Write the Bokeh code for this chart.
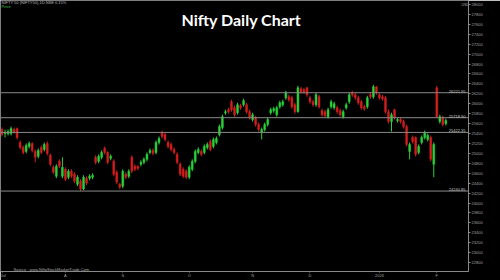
from bokeh.plotting import figure
from bokeh.models import Range1d, FixedTicker, Span, Label, ColumnDataSource
from bokeh.embed import file_html
from bokeh.resources import INLINE

# ---- data ----
opens = [25480, 25400, 25400, 25400, 25480, 25500, 25220, 25120, 25040, 25140,
         25200, 25040, 24940, 25120, 25080, 25200, 24960, 24720, 24540, 24840,
         24540, 24680, 24520, 24640, 24580, 24380, 24440, 24280, 24500, 24500,
         24520, 24920, 24840, 24920, 25100, 25020, 24900, 24840, 24620, 24380,
         24340, 24580, 24540, 24920, 24740, 24740, 24780, 24820, 24880, 25020,
         25060, 25020, 25220, 25420, 25380, 25220, 25180, 25080, 24980, 24780,
         24680, 24640, 24520, 24680, 24840, 25020, 25040, 25020, 25120, 25240,
         25140, 25220, 25380, 25520, 25820, 25880, 26040, 25920, 25820, 25960,
         25980, 25980, 25840, 25680, 25720, 25580, 25420, 25480, 25580, 25820,
         25860, 25780, 25940, 25980, 26120, 26140, 26120, 25980, 25840, 26300,
         26280, 26320, 26120, 26040, 25980, 26140, 25860, 25840, 25740, 25940,
         25920, 25920, 25860, 25740, 25920, 26040, 26220, 26180, 26120, 26040,
         25940, 25940, 26180, 26140, 26340, 26180, 26140, 26120, 25840, 25640,
         25880, 25660, 25680, 25640, 25540, 25040, 25320, 25320, 25020, 25220,
         25320, 25280, 25320, 24780, 26320, 25640, 25720, 25600]
highs = [25520, 25480, 25480, 25540, 25520, 25520, 25260, 25160, 25200, 25240,
         25220, 25080, 25100, 25160, 25220, 25240, 25000, 24760, 24780, 24880,
         24920, 24720, 24680, 24680, 24620, 24560, 24480, 24560, 24540, 24580,
         24600, 24960, 24980, 25060, 25140, 25040, 24980, 24880, 24660, 24400,
         24680, 24620, 24680, 24960, 24780, 24760, 24860, 24920, 25020, 25100,
         25100, 25260, 25340, 25460, 25420, 25260, 25220, 25120, 25020, 24820,
         24720, 24680, 24760, 24880, 25080, 25120, 25080, 25180, 25220, 25280,
         25320, 25340, 25580, 25780, 25880, 25920, 26080, 25960, 26020, 26000,
         26100, 26020, 25880, 25820, 25760, 25620, 25520, 25620, 25720, 25920,
         25940, 25960, 26060, 26080, 26260, 26180, 26160, 26020, 26360, 26340,
         26320, 26340, 26160, 26080, 26220, 26180, 25900, 25880, 25920, 26080,
         26040, 25960, 25900, 25880, 26020, 26220, 26260, 26220, 26160, 26080,
         25980, 26160, 26220, 26380, 26360, 26220, 26180, 26160, 25880, 25820,
         25900, 25720, 25720, 25680, 25580, 25220, 25360, 25340, 25180, 25360,
         25460, 25400, 25360, 25220, 26360, 25780, 25760, 25700]
lows = [25340, 25320, 25360, 25360, 25400, 25280, 25080, 24980, 25000, 25100,
        25020, 24820, 24900, 24980, 25040, 24960, 24740, 24580, 24500, 24700,
        24500, 24440, 24480, 24500, 24400, 24340, 24240, 24260, 24360, 24460,
        24480, 24780, 24800, 24880, 24980, 24780, 24860, 24540, 24380, 24280,
        24300, 24480, 24500, 24600, 24640, 24660, 24740, 24780, 24840, 24980,
        24960, 24980, 25180, 25300, 25240, 25100, 25040, 24980, 24780, 24540,
        24500, 24480, 24480, 24640, 24800, 24980, 24940, 24980, 25080, 25040,
        25100, 25180, 25340, 25480, 25780, 25800, 25840, 25740, 25780, 25880,
        25940, 25800, 25680, 25640, 25540, 25440, 25280, 25440, 25540, 25780,
        25820, 25740, 25900, 25940, 26080, 26040, 25900, 25800, 25820, 26200,
        26200, 26140, 26000, 25940, 25940, 25900, 25740, 25720, 25700, 25900,
        25880, 25800, 25740, 25700, 25880, 26000, 26140, 26080, 25980, 25880,
        25860, 25900, 26100, 26100, 26180, 26080, 26060, 25800, 25600, 25440,
        25680, 25620, 25600, 25500, 25140, 24880, 25200, 24940, 24980, 25180,
        25280, 25240, 24840, 24520, 25720, 25600, 25540, 25560]
closes = [25380, 25420, 25440, 25500, 25440, 25320, 25120, 25020, 25160, 25200,
          25060, 24920, 25060, 25020, 25180, 25000, 24780, 24620, 24740, 24740,
          24720, 24480, 24640, 24540, 24440, 24520, 24280, 24520, 24400, 24540,
          24560, 24820, 24940, 25020, 25020, 24820, 24940, 24580, 24420, 24320,
          24640, 24520, 24640, 24640, 24680, 24700, 24820, 24880, 24980, 25060,
          25000, 25220, 25300, 25340, 25280, 25140, 25080, 25020, 24820, 24580,
          24540, 24520, 24720, 24840, 25040, 25080, 24980, 25140, 25180, 25080,
          25280, 25300, 25540, 25740, 25840, 25840, 25880, 25780, 25980, 25920,
          26060, 25840, 25720, 25780, 25580, 25480, 25480, 25580, 25680, 25880,
          25900, 25920, 26020, 26040, 26220, 26080, 25940, 25840, 26320, 26240,
          26240, 26180, 26040, 25980, 26180, 25940, 25780, 25760, 25880, 26040,
          26000, 25840, 25780, 25840, 25980, 26180, 26180, 26120, 26020, 25920,
          25900, 26120, 26140, 26340, 26220, 26120, 26100, 25840, 25640, 25780,
          25720, 25680, 25640, 25540, 25180, 25180, 25240, 24980, 25140, 25320,
          25420, 25360, 24880, 25180, 25740, 25740, 25580, 25660]

month_ticks = [0, 21, 40, 62, 83, 102, 125, 144]
month_labels = ["Jul", "A", "S", "O", "N", "D", "2026", "F"]
levels = [26221.95, 25718.90, 25422.35, 24240.85]
price_ticks = list(range(22600, 28001, 200))
title_text = "Nifty Daily Chart"
header_text = "NIFTY 50 (NIFTY50),1D,NSE  0.15%"
source_text = "Source : www.NiftyStockMarketTrade.Com"
legend_lines = ["NIFTY 50", "O 25,600.00", "H 25,700.00", "L 25,560.00", "C 25,660.00", "-0.15%"]
legend_colors = ["#dddddd", "#dddddd", "#3ccf4e", "#e0403a", "#d070c0", "#9a6ad8"]

UP = "#2bd13b"
DOWN = "#d21f1f"
TOP = 28080
PX = 20          # price units per pixel
FRAME_H = 273
y_of = lambda py: TOP - PX * py   # canvas pixel row -> price (for annotation placement)

idx = list(range(len(opens)))
colors = [UP if c >= o else DOWN for o, c in zip(opens, closes)]
tops = [max(o, c) for o, c in zip(opens, closes)]
bots = [min(o, c) for o, c in zip(opens, closes)]
src = ColumnDataSource(dict(x=idx, high=highs, low=lows, top=tops, bottom=bots, color=colors))

p = figure(width=500, height=280, output_backend="svg", toolbar_location=None,
           x_range=Range1d(-0.5, 154.5), y_range=Range1d(TOP - PX * FRAME_H, TOP),
           y_axis_location="right",
           background_fill_color="black", border_fill_color="black",
           min_border_left=0, min_border_top=0, min_border_right=32, min_border_bottom=0)
p.outline_line_color = None
p.grid.visible = False

# level lines
for v in levels:
    p.add_layout(Span(location=v, dimension="width", line_color="#8a8a8a", line_width=1))

p.segment(x0="x", y0="low", x1="x", y1="high", color="color", line_width=1, source=src)
p.vbar(x="x", top="top", bottom="bottom", width=0.62, fill_color="color", line_color="color",
       line_width=0.5, source=src)

# axes
ya = p.yaxis[0]
ya.ticker = FixedTicker(ticks=price_ticks)
ya.axis_line_color = "#8a8a8a"
ya.major_tick_line_color = "#8a8a8a"
ya.major_tick_out = 2
ya.major_tick_in = 0
ya.minor_tick_line_color = None
ya.major_label_text_color = "#a0a0a0"
ya.major_label_text_font_size = "4px"
ya.major_label_standoff = 1

xa = p.xaxis[0]
xa.ticker = FixedTicker(ticks=month_ticks)
xa.major_label_overrides = {t: l for t, l in zip(month_ticks, month_labels)}
xa.axis_line_color = "#8a8a8a"
xa.major_tick_line_color = "#8a8a8a"
xa.major_tick_out = 1
xa.major_tick_in = 0
xa.minor_tick_line_color = None
xa.major_label_text_color = "#a0a0a0"
xa.major_label_text_font_size = "4px"
xa.major_label_standoff = 0

# level labels
for v in levels:
    p.add_layout(Label(x=465, y=v, x_units="screen", text=f"{v:.2f}", text_align="right",
                       text_baseline="bottom", text_font_size="4px", text_color="#c8c8c8"))

# last price box
last = closes[-1]
p.add_layout(Label(x=469, y=last, x_units="screen", text=f"{last:.2f}", text_align="left",
                   text_baseline="middle", text_font_size="4px", text_color="black",
                   background_fill_color="white", border_line_color="white", padding=1))

# title and small texts
p.add_layout(Label(x=241, y=y_of(19), x_units="screen", text=title_text,
                   text_align="center", text_baseline="middle", text_font="Lato",
                   text_font_style="bold", text_font_size="16px", text_color="white"))
p.add_layout(Label(x=1, y=y_of(2), x_units="screen", text=header_text,
                   text_baseline="middle", text_font_size="4px", text_color="#bbbbbb"))
p.add_layout(Label(x=1, y=y_of(6), x_units="screen", text="Price",
                   text_baseline="middle", text_font_size="4px", text_color="#35c94a"))
p.add_layout(Label(x=13, y=y_of(271), x_units="screen", text=source_text,
                   text_baseline="middle", text_font_size="4px", text_color="#aaaaaa"))
p.add_layout(Label(x=461, y=y_of(5), x_units="screen", text="USD",
                   text_baseline="middle", text_font_size="3.5px", text_color="#aaaaaa"))
for k, (t, c) in enumerate(zip(legend_lines, legend_colors)):
    p.add_layout(Label(x=481, y=y_of(2 + 3.6 * k), x_units="screen", text=t,
                       text_baseline="middle", text_font_size="3.5px", text_color=c,
                       background_fill_color="black"))

open("out.html", "w").write(file_html(p, INLINE))
